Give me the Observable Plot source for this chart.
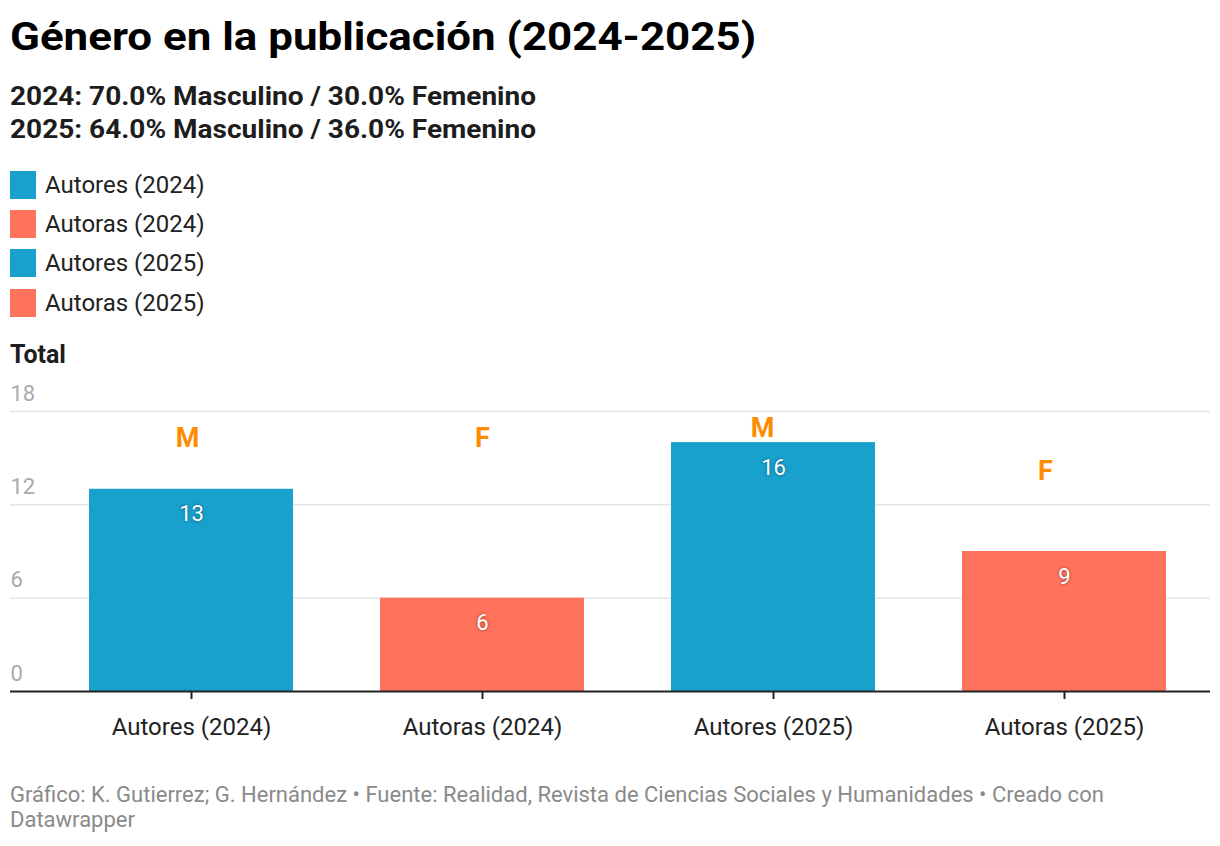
<!DOCTYPE html>
<html>
<head>
<meta charset="utf-8">
<script src="https://cdn.jsdelivr.net/npm/d3@7"></script>
<script src="https://cdn.jsdelivr.net/npm/@observablehq/plot@0.6"></script>
<style>
  html, body { margin: 0; padding: 0; background: #fff; }
  body { font-family: Roboto, "Noto Sans", sans-serif; width: 1220px; height: 846px; position: relative; overflow: hidden; }
  .title { position: absolute; left: 10px; top: 14px; font-size: 38px; font-weight: 700; color: #000; line-height: 46px; white-space: nowrap; transform: scaleX(1.155); transform-origin: left center; }
  .subtitle { position: absolute; left: 10px; top: 80px; font-size: 25px; font-weight: 700; color: #1d1d1d; line-height: 33px; white-space: nowrap; transform: scaleX(1.12); transform-origin: left center; }
  .legend { position: absolute; left: 10px; top: 165px; }
  .legend .item { display: flex; align-items: center; height: 39.3px; font-size: 24px; color: #222; }
  .legend .sw { width: 26px; height: 28px; margin-right: 9px; }
  .ytitle { position: absolute; left: 10px; top: 339px; font-size: 25px; font-weight: 700; color: #1d1d1d; line-height: 32px; }
  #chart { position: absolute; left: 0; top: 372px; }
  .footer { position: absolute; left: 10px; top: 782px; width: 1200px; font-size: 22px; color: #8a8a8a; line-height: 25px; }
  text.vlabel, .vlabel text { text-shadow: 0 0 3px rgba(0,0,0,0.5); }
</style>
</head>
<body>
<div class="title">Género en la publicación (2024-2025)</div>
<div class="subtitle">2024: 70.0% Masculino / 30.0% Femenino<br>2025: 64.0% Masculino / 36.0% Femenino</div>
<div class="legend" id="legend"></div>
<div class="ytitle">Total</div>
<div id="chart"></div>
<div class="footer">Gráfico: K. Gutierrez; G. Hernández • Fuente: Realidad, Revista de Ciencias Sociales y Humanidades • Creado con Datawrapper</div>
<script>
// Data
const categories = ["Autores (2024)", "Autoras (2024)", "Autores (2025)", "Autoras (2025)"];
const totals = [13, 6, 16, 9];
const barColors = ["#18a1cd", "#ff735c", "#18a1cd", "#ff735c"];
const yTicks = [0, 6, 12, 18];
const annotLabels = ["M", "F", "M", "F"];
const annotY = [16.26, 16.26, 16.9, 14.14];
const annotDx = [-4, 0, -11, -19];

// Legend
const legend = document.getElementById("legend");
categories.forEach((c, i) => {
  const it = document.createElement("div");
  it.className = "item";
  it.innerHTML = `<span class="sw" style="background:${barColors[i]}"></span><span>${c}</span>`;
  legend.appendChild(it);
});

const data = categories.map((c, i) => ({ cat: c, total: totals[i], color: barColors[i] }));
const annots = categories.map((c, i) => ({ cat: c, y: annotY[i], label: annotLabels[i], dx: annotDx[i] }));

const chart = Plot.plot({
  width: 1220,
  height: 379,
  marginTop: 39,
  marginBottom: 60,
  marginLeft: 10,
  marginRight: 10,
  style: { fontFamily: "Roboto, sans-serif", background: "#fff" },
  x: { domain: categories, paddingInner: 0.3, paddingOuter: 0.15, insetLeft: 34, label: null },
  y: { domain: [0, 18], label: null, axis: null },
  marks: [
    Plot.ruleY(yTicks.filter(d => d > 0), { stroke: "#e5e5e5", strokeWidth: 1.5 }),
    Plot.text(yTicks, { y: d => d, text: d => String(d), frameAnchor: "left", textAnchor: "start", dy: -18, fill: "#aaaaaa", fontSize: 22 }),
    Plot.barY(data, { x: "cat", y: "total", fill: "color" }),
    Plot.ruleY([0], { stroke: "#222", strokeWidth: 2 }),
    Plot.axisX({ tickSize: 8, tickPadding: 18, fontSize: 24, stroke: "#222", strokeWidth: 2, color: "#222", label: null }),
    Plot.text(data, { x: "cat", y: "total", text: d => String(d.total), dy: 25, lineAnchor: "middle", fill: "#fff", fontSize: 22, className: "vlabel" }),
    ...annots.map(a => Plot.text([a], { x: "cat", y: "y", text: "label", dx: a.dx, lineAnchor: "middle", fill: "#ff8c00", fontSize: 27, fontWeight: 700 }))
  ]
});
document.getElementById("chart").appendChild(chart);
</script>
</body>
</html>
